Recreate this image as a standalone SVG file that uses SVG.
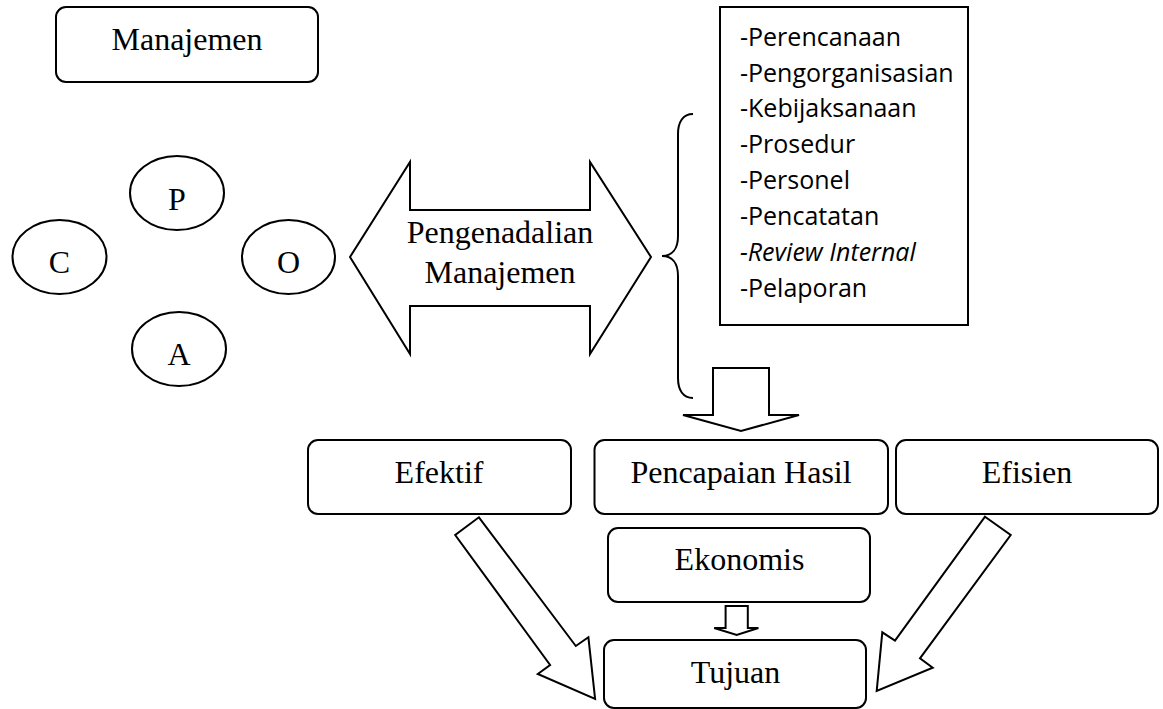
<svg xmlns="http://www.w3.org/2000/svg" width="1163" height="709" viewBox="0 0 1163 709">
<style>
.s{fill:#fff;stroke:#000;stroke-width:2;stroke-linejoin:miter}
.b{fill:none;stroke:#000;stroke-width:2}
.t{font-family:"Liberation Serif","Times New Roman",serif;font-size:32px;fill:#000;text-anchor:middle}
.l{font-family:"Open Sans","Noto Sans",sans-serif;font-size:25px;fill:#000}
</style>
<rect width="1163" height="709" fill="#fff"/>
<g id="connectors">
<path id="brace" class="b" d="M693,114 C683,114 678,122 678,134 L678,236 C678,249 672,256 662,256 C672,256 678,263 678,276 L678,378 C678,390 683,398 693,398"/>
<polygon id="arrow-down-main" class="s" points="713,368 769,368 769,415 799,415 741,431 683,415 713,415"/>
<polygon id="arrow-ekonomis-tujuan" class="s" points="725.6,606 747.8,606 747.8,628 758.4,628 736.7,635 714.2,628 725.6,628"/>
<polygon id="arrow-efektif-tujuan" class="s" points="478.9,517.3 575.8,646 588.4,637.3 595.1,699 537.8,674 550.1,665 455.2,535"/>
<polygon id="arrow-efisien-tujuan" class="s" points="985,516.7 1010.7,535 920,658.3 932.7,667.7 876.7,691 882.3,632.3 895,640.7"/>
</g>
<g id="manajemen">
<rect class="s" x="56" y="7" width="262" height="75" rx="10"/>
<text class="t" x="187" y="50">Manajemen</text>
</g>
<g id="p">
<ellipse class="s" cx="177" cy="193" rx="47" ry="37"/>
<text class="t" x="177" y="210">P</text>
</g>
<g id="c">
<ellipse class="s" cx="59.5" cy="257" rx="47" ry="37"/>
<text class="t" x="59.5" y="273">C</text>
</g>
<g id="o">
<ellipse class="s" cx="288.5" cy="257" rx="46.5" ry="37"/>
<text class="t" x="288.5" y="273">O</text>
</g>
<g id="a">
<ellipse class="s" cx="179" cy="349" rx="47" ry="37"/>
<text class="t" x="179" y="365">A</text>
</g>
<g id="pengendalian">
<polygon class="s" points="350,257 410,162 410,210 590,210 590,162 651,257 590,354 590,306 410,306 410,354"/>
<text class="t" x="500" y="243">Pengenadalian</text>
<text class="t" x="500" y="283">Manajemen</text>
</g>
<g id="list">
<rect class="s" x="720" y="7" width="248" height="318"/>
<text class="l" x="740" y="45.7">-Perencanaan</text>
<text class="l" x="740" y="81.6">-Pengorganisasian</text>
<text class="l" x="740" y="117.4">-Kebijaksanaan</text>
<text class="l" x="740" y="153.3">-Prosedur</text>
<text class="l" x="740" y="189.1">-Personel</text>
<text class="l" x="740" y="225">-Pencatatan</text>
<text class="l" x="740" y="260.8" font-style="italic">-Review Internal</text>
<text class="l" x="740" y="296.7">-Pelaporan</text>
</g>
<g id="efektif">
<rect class="s" x="308" y="440" width="263" height="74" rx="10"/>
<text class="t" x="439" y="483">Efektif</text>
</g>
<g id="pencapaian">
<rect class="s" x="594.5" y="440" width="293.5" height="74" rx="10"/>
<text class="t" x="741" y="483">Pencapaian Hasil</text>
</g>
<g id="efisien">
<rect class="s" x="896" y="440" width="262" height="74" rx="10"/>
<text class="t" x="1027" y="483">Efisien</text>
</g>
<g id="ekonomis">
<rect class="s" x="608" y="528" width="262" height="74" rx="10"/>
<text class="t" x="739.5" y="570">Ekonomis</text>
</g>
<g id="tujuan">
<rect class="s" x="604" y="640" width="262" height="68" rx="10"/>
<text class="t" x="735.5" y="683">Tujuan</text>
</g>
</svg>
